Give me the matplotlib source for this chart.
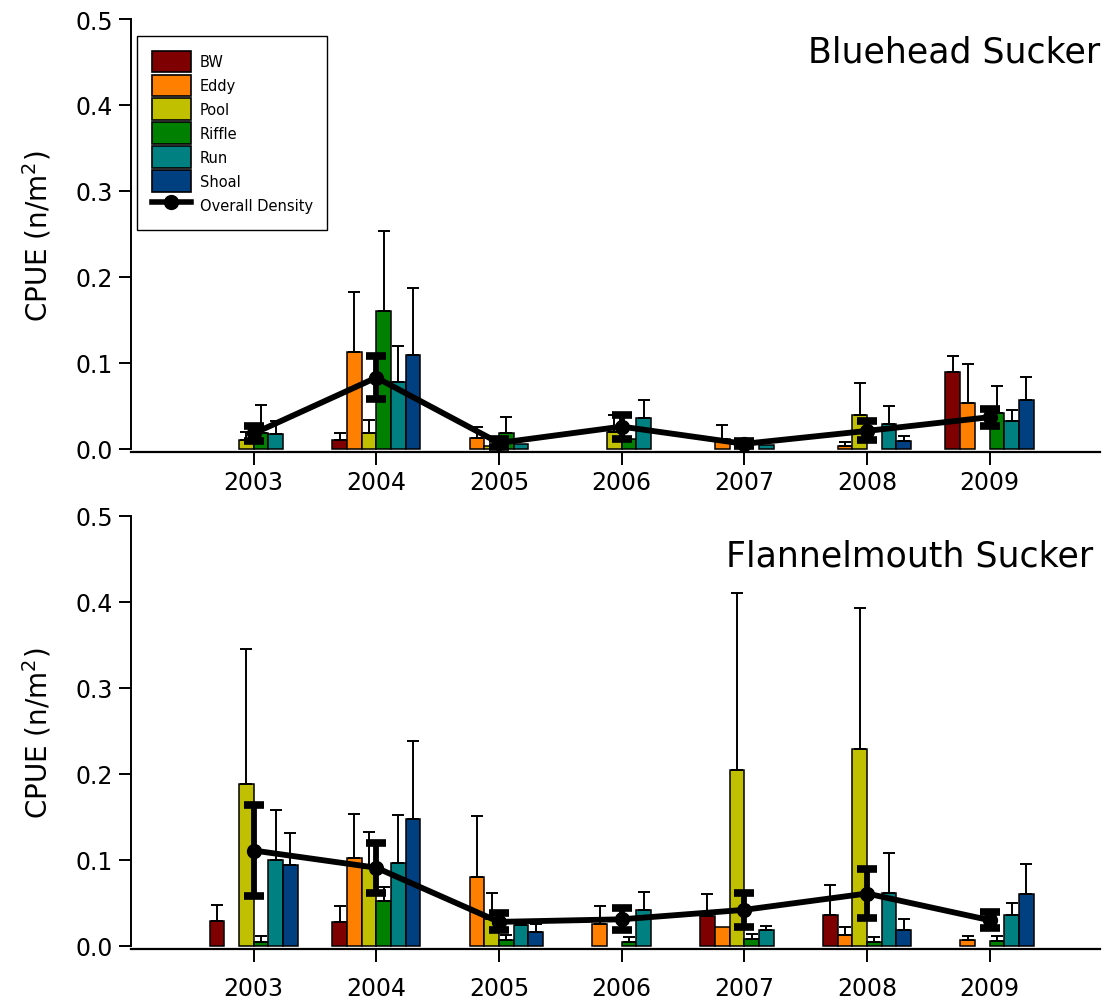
import numpy as np
import matplotlib
matplotlib.use("Agg")
import matplotlib.pyplot as plt
from matplotlib.patches import Patch
from matplotlib.lines import Line2D

nan = np.nan
years = ["2003", "2004", "2005", "2006", "2007", "2008", "2009"]
habitats = ["BW", "Eddy", "Pool", "Riffle", "Run", "Shoal"]
colors = ["#7f0000", "#ff8000", "#c0c000", "#008000", "#008080", "#004080"]

# Bluehead Sucker: mean CPUE per habitat and upper SE
blu_bw = [nan, 0.010, nan, nan, nan, nan, 0.089]
blu_bw_se = [nan, 0.009, nan, nan, nan, nan, 0.019]
blu_eddy = [nan, 0.113, 0.013, nan, 0.012, 0.004, 0.054]
blu_eddy_se = [nan, 0.070, 0.013, nan, 0.016, 0.004, 0.045]
blu_pool = [0.011, 0.019, 0.004, 0.020, nan, 0.040, nan]
blu_pool_se = [0.009, 0.015, nan, 0.020, nan, 0.037, nan]
blu_riffle = [0.018, 0.161, 0.019, 0.012, nan, nan, 0.042]
blu_riffle_se = [0.033, 0.092, 0.018, nan, nan, nan, 0.031]
blu_run = [0.017, 0.078, 0.006, 0.036, 0.005, 0.029, 0.032]
blu_run_se = [0.015, 0.042, nan, 0.021, nan, 0.021, 0.013]
blu_shoal = [nan, 0.109, nan, nan, nan, 0.009, 0.057]
blu_shoal_se = [nan, 0.078, nan, nan, nan, 0.006, 0.027]
blu_overall = [0.018, 0.083, 0.007, 0.026, 0.006, 0.021, 0.037]
blu_overall_se = [0.009, 0.025, 0.005, 0.014, 0.003, 0.011, 0.010]

# Flannelmouth Sucker
fla_bw = [0.029, 0.028, nan, nan, 0.035, 0.036, nan]
fla_bw_se = [0.019, 0.019, nan, nan, 0.026, 0.035, nan]
fla_eddy = [nan, 0.102, 0.080, 0.026, 0.022, 0.013, 0.007]
fla_eddy_se = [nan, 0.052, 0.071, 0.020, nan, 0.009, 0.005]
fla_pool = [0.188, 0.091, 0.031, nan, 0.205, 0.229, nan]
fla_pool_se = [0.157, 0.041, 0.031, nan, 0.206, 0.164, nan]
fla_riffle = [0.005, 0.052, 0.007, 0.005, 0.008, 0.005, 0.006]
fla_riffle_se = [0.007, 0.017, 0.006, 0.006, 0.006, 0.005, 0.006]
fla_run = [0.100, 0.096, 0.024, 0.042, 0.018, 0.062, 0.036]
fla_run_se = [0.058, 0.056, 0.003, 0.021, 0.005, 0.046, 0.014]
fla_shoal = [0.094, 0.148, 0.016, nan, nan, 0.019, 0.061]
fla_shoal_se = [0.037, 0.090, 0.010, nan, nan, 0.012, 0.034]
fla_overall = [0.111, 0.091, 0.028, 0.031, 0.042, 0.061, 0.030]
fla_overall_se = [0.053, 0.029, 0.010, 0.013, 0.020, 0.029, 0.009]

panels = [
    ("Bluehead Sucker",
     [blu_bw, blu_eddy, blu_pool, blu_riffle, blu_run, blu_shoal],
     [blu_bw_se, blu_eddy_se, blu_pool_se, blu_riffle_se, blu_run_se, blu_shoal_se],
     blu_overall, blu_overall_se),
    ("Flannelmouth Sucker",
     [fla_bw, fla_eddy, fla_pool, fla_riffle, fla_run, fla_shoal],
     [fla_bw_se, fla_eddy_se, fla_pool_se, fla_riffle_se, fla_run_se, fla_shoal_se],
     fla_overall, fla_overall_se),
]

plt.rcParams['font.family'] = ['DejaVu Sans']
W, H = 1110, 1003
fig = plt.figure(figsize=(W / 100, H / 100), dpi=100)

axes_px = [(20, 453.4), (517, 950.4)]  # top, bottom pixel of each axes
title_pos = [(1.0, 0.925), (0.9928, 0.910)]
xlabel_pad = [4, 10]
left_px, right_px = 131, 1100
bw = 0.12
x = np.arange(len(years))

for i, (title, vals, ses, ov, ovse) in enumerate(panels):
    top, bot = axes_px[i]
    ax = fig.add_axes([left_px / W, 1 - bot / H, (right_px - left_px) / W, (bot - top) / H])
    for k, (v, s, c) in enumerate(zip(vals, ses, colors)):
        v = np.array(v, float)
        s = np.array(s, float)
        xo = x + (k - 2.5) * bw
        m = ~np.isnan(v)
        ax.bar(xo[m], v[m], width=bw, color=c, edgecolor="black", linewidth=1.1, zorder=2)
        me = m & ~np.isnan(s)
        ax.errorbar(xo[me], v[me], yerr=[np.zeros(me.sum()), s[me]], fmt="none",
                    ecolor="black", elinewidth=1.4, capsize=4.6, capthick=1.4, zorder=3)
    ax.errorbar(x, ov, yerr=ovse, fmt="none", ecolor="black", elinewidth=4.2,
                capsize=7.5, capthick=5.5, zorder=4)
    ax.plot(x, ov, color="black", linewidth=4.2, marker="o", markersize=10,
            solid_capstyle="round", zorder=5)

    ax.set_xlim(-1.0, 6.9)
    ax.set_ylim(-0.004, 0.5)
    ax.set_yticks([0.0, 0.1, 0.2, 0.3, 0.4, 0.5])
    ax.set_yticklabels(["0.0", "0.1", "0.2", "0.3", "0.4", "0.5"])
    ax.set_xticks(x)
    ax.set_xticklabels(years)
    ax.spines["top"].set_visible(False)
    ax.spines["right"].set_visible(False)
    ax.spines["left"].set_bounds(0, 0.5)
    ax.spines["left"].set_linewidth(1.4)
    ax.spines["bottom"].set_linewidth(1.6)
    ax.tick_params(direction="out", length=9, width=1.4, labelsize=17, pad=4)
    ax.tick_params(axis="x", pad=xlabel_pad[i])
    ax.set_ylabel("CPUE (n/m$^2$)", fontsize=20, labelpad=16)
    tx, ty = title_pos[i]
    ax.text(tx, ty, title, transform=ax.transAxes, ha="right", va="center", fontsize=25)

    if i == 0:
        handles = [Patch(facecolor=c, edgecolor="black", linewidth=1.2) for c in colors]
        handles.append(Line2D([0], [0], color="black", linewidth=4, marker="o", markersize=10))
        labels = habitats + ["Overall Density"]
        leg = ax.legend(handles, labels, loc="upper left",
                        bbox_to_anchor=(137 / W, 1 - 37 / H), bbox_transform=fig.transFigure,
                        fontsize=10.5, frameon=True, fancybox=False, framealpha=1,
                        edgecolor="black", handlelength=2.7, handleheight=1.9,
                        labelspacing=0.16, handletextpad=0.6, borderpad=1.0,
                        borderaxespad=0)
        leg.get_frame().set_linewidth(1.0)

fig.savefig("out.png", dpi=100)
